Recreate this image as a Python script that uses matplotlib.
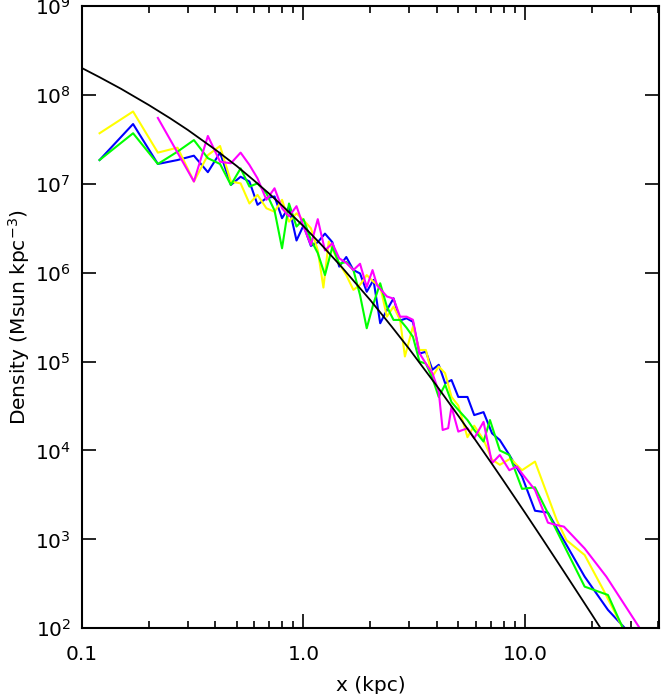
import matplotlib
matplotlib.use("Agg")
import matplotlib.pyplot as plt
from matplotlib.ticker import FixedLocator, NullLocator, FixedFormatter

# ---- data ----
model_x = [0.1, 0.12, 0.15, 0.2, 0.25, 0.3, 0.4, 0.5, 0.6, 0.7, 0.8, 1.0, 1.2, 1.5, 2.0, 2.5,
           3.0, 4.0, 5.0, 6.0, 7.0, 8.0, 10.0, 12.0, 15.0, 20.0, 25.0, 30.0]
model_rho = [2.0e8, 1.58e8, 1.17e8, 7.7e7, 5.45e7, 4.04e7, 2.42e7, 1.58e7, 1.08e7, 7.73e6, 5.7e6,
             3.33e6, 2.08e6, 1.13e6, 4.93e5, 2.48e5, 1.39e5, 5.32e4, 2.46e4, 1.29e4, 7.42e3,
             4.56e3, 2.0e3, 1.01e3, 433, 144, 60.5, 29.8]

blue_x = [0.12, 0.17, 0.22, 0.27, 0.32, 0.37, 0.42, 0.47, 0.52, 0.57, 0.62, 0.68, 0.74, 0.80,
          0.86, 0.93, 1.00, 1.08, 1.16, 1.25, 1.35, 1.45, 1.56, 1.68, 1.80, 1.93, 2.07, 2.22,
          2.38, 2.55, 2.73, 2.92, 3.12, 3.34, 3.57, 3.82, 4.08, 4.36, 4.66, 5.0, 5.5, 5.9, 6.5,
          7.1, 7.7, 8.5, 9.7, 11.1, 12.7, 18.6, 23.7, 28.3]
blue_rho = [1.85e7, 4.7e7, 1.67e7, 1.85e7, 2.07e7, 1.35e7, 2.24e7, 9.7e6, 1.2e7, 1.06e7, 5.8e6,
            6.9e6, 7.2e6, 4.1e6, 5.5e6, 2.3e6, 3.4e6, 2.0e6, 2.2e6, 2.75e6, 2.2e6, 1.17e6, 1.5e6,
            1.07e6, 9.8e5, 6.1e5, 8.3e5, 2.7e5, 3.8e5, 5.15e5, 2.9e5, 3.07e5, 2.8e5, 1.23e5,
            1.29e5, 8.1e4, 9.2e4, 5.7e4, 6.2e4, 4.0e4, 4.0e4, 2.5e4, 2.7e4, 1.56e4, 1.31e4,
            8.9e3, 5.1e3, 2.1e3, 2.0e3, 381, 161, 100]

yellow_x = [0.12, 0.17, 0.22, 0.27, 0.32, 0.37, 0.42, 0.47, 0.52, 0.57, 0.62, 0.68, 0.74, 0.80,
            0.86, 0.93, 1.00, 1.08, 1.16, 1.23, 1.30, 1.45, 1.56, 1.68, 1.80, 1.93, 2.07, 2.22,
            2.38, 2.55, 2.73, 2.87, 3.12, 3.34, 3.57, 3.82, 4.08, 4.36, 4.66, 5.0, 5.5, 5.9, 6.5,
            7.1, 7.7, 8.6, 9.7, 11.1, 13.9, 15.4, 18.6, 22.6, 27.7]
yellow_rho = [3.7e7, 6.5e7, 2.24e7, 2.55e7, 1.06e7, 2.1e7, 2.66e7, 1.06e7, 1.01e7, 6.0e6, 7.5e6,
              5.3e6, 4.85e6, 6.6e6, 3.75e6, 4.65e6, 3.9e6, 3.16e6, 1.78e6, 6.8e5, 2.24e6, 1.27e6,
              9.4e5, 6.4e5, 7.3e5, 9.4e5, 7.9e5, 7.0e5, 3.2e5, 4.15e5, 2.94e5, 1.14e5, 2.47e5,
              1.35e5, 1.35e5, 6.8e4, 8.8e4, 7.4e4, 4.0e4, 3.2e4, 1.41e4, 1.9e4, 1.32e4, 7.9e3,
              6.9e3, 8.1e3, 6.0e3, 7.5e3, 1.66e3, 980, 667, 270, 100]

green_x = [0.12, 0.17, 0.22, 0.27, 0.32, 0.37, 0.42, 0.47, 0.52, 0.57, 0.62, 0.68, 0.74, 0.80,
           0.86, 0.93, 1.00, 1.08, 1.16, 1.25, 1.35, 1.45, 1.56, 1.68, 1.80, 1.93, 2.07, 2.22,
           2.38, 2.55, 2.73, 2.92, 3.12, 3.34, 3.57, 3.82, 4.08, 4.36, 4.66, 5.0, 5.5, 5.9, 6.5,
           6.95, 7.7, 8.5, 9.7, 11.1, 18.6, 23.7, 27.7]
green_rho = [1.85e7, 3.7e7, 1.67e7, 2.3e7, 3.1e7, 1.94e7, 1.67e7, 9.7e6, 1.49e7, 9.3e6, 1.01e7,
             7.8e6, 5.0e6, 1.88e6, 6.0e6, 3.3e6, 4.0e6, 2.34e6, 1.66e6, 9.4e5, 1.95e6, 1.26e6,
             1.32e6, 1.07e6, 5.6e5, 2.37e5, 4.5e5, 7.6e5, 4.15e5, 2.94e5, 2.94e5, 2.4e5, 1.9e5,
             1.0e5, 9.5e4, 6.5e4, 4.0e4, 5.5e4, 3.5e4, 2.86e4, 2.2e4, 1.7e4, 1.26e4, 2.2e4,
             1.0e4, 8.9e3, 3.7e3, 3.85e3, 294, 237, 100]

magenta_x = [0.22, 0.32, 0.37, 0.42, 0.47, 0.52, 0.57, 0.62, 0.68, 0.74, 0.80, 0.86, 0.93, 1.00,
             1.08, 1.16, 1.25, 1.35, 1.45, 1.56, 1.68, 1.80, 1.93, 2.05, 2.15, 2.38, 2.55, 2.73,
             2.92, 3.12, 3.34, 3.57, 3.82, 4.08, 4.25, 4.5, 4.66, 5.0, 5.5, 5.9, 6.5, 7.1, 7.7,
             8.5, 9.2, 9.7, 11.1, 12.7, 13.9, 15.0, 18.6, 23.3, 33.0]
magenta_rho = [5.5e7, 1.06e7, 3.45e7, 1.77e7, 1.7e7, 2.24e7, 1.63e7, 1.15e7, 6.6e6, 8.9e6, 5.3e6,
               4.3e6, 5.6e6, 3.3e6, 2.05e6, 4.0e6, 1.78e6, 2.14e6, 1.45e6, 1.29e6, 1.07e6, 1.26e6,
               6.9e5, 1.07e6, 7.2e5, 5.4e5, 5.1e5, 3.2e5, 3.2e5, 2.95e5, 1.24e5, 9.5e4, 7.4e4,
               4.6e4, 1.7e4, 1.78e4, 3.1e4, 1.63e4, 1.78e4, 1.37e4, 2.1e4, 7.2e3, 8.9e3, 6.0e3,
               6.6e3, 5.5e3, 3.6e3, 1.54e3, 1.45e3, 1.39e3, 790, 381, 100]

x_major = [0.1, 1.0, 10.0]
x_major_labels = ["0.1", "1.0", "10.0"]
y_major = [1e2, 1e3, 1e4, 1e5, 1e6, 1e7, 1e8, 1e9]
y_major_labels = [r"$10^{%d}$" % k for k in range(2, 10)]
x_label = "x (kpc)"
y_label = r"Density (Msun kpc$^{-3}$)"

# ---- figure ----
plt.rcParams['mathtext.fontset'] = 'dejavusans'
fig = plt.figure(figsize=(6.61, 6.94), dpi=100)
ax = fig.add_axes([0.1241, 0.0947, 0.8729, 0.8967])

lw = 1.5
ax.plot(blue_x, blue_rho, color=(0, 0, 1), lw=lw)
ax.plot(yellow_x, yellow_rho, color=(1, 1, 0), lw=lw)
ax.plot(green_x, green_rho, color=(0, 1, 0), lw=lw)
ax.plot(magenta_x, magenta_rho, color=(1, 0, 1), lw=lw)
ax.plot(model_x, model_rho, color='black', lw=1.3)

ax.set_xscale('log')
ax.set_yscale('log')
ax.set_xlim(0.1, 40.3)
ax.set_ylim(1e2, 1e9)

minor_x = [m * d for d in (0.1, 1.0, 10.0) for m in range(2, 10) if m * d < 40.3]
ax.xaxis.set_major_locator(FixedLocator(x_major))
ax.xaxis.set_major_formatter(FixedFormatter(x_major_labels))
ax.xaxis.set_minor_locator(FixedLocator(minor_x))
ax.yaxis.set_major_locator(FixedLocator(y_major))
ax.yaxis.set_major_formatter(FixedFormatter(y_major_labels))
ax.yaxis.set_minor_locator(NullLocator())

ax.tick_params(which='both', direction='in', top=True, right=True, width=1.2, color='black')
ax.tick_params(which='major', length=10, labelsize=14.5)
ax.tick_params(axis='x', which='major', pad=12)
ax.tick_params(axis='y', which='major', pad=8)
ax.tick_params(which='minor', length=5)
for s in ax.spines.values():
    s.set_linewidth(1.5)

ax.set_xlabel(x_label, fontsize=14.5, labelpad=9)
ax.set_ylabel(y_label, fontsize=14.5, labelpad=2)

fig.savefig("out.png", dpi=100)
